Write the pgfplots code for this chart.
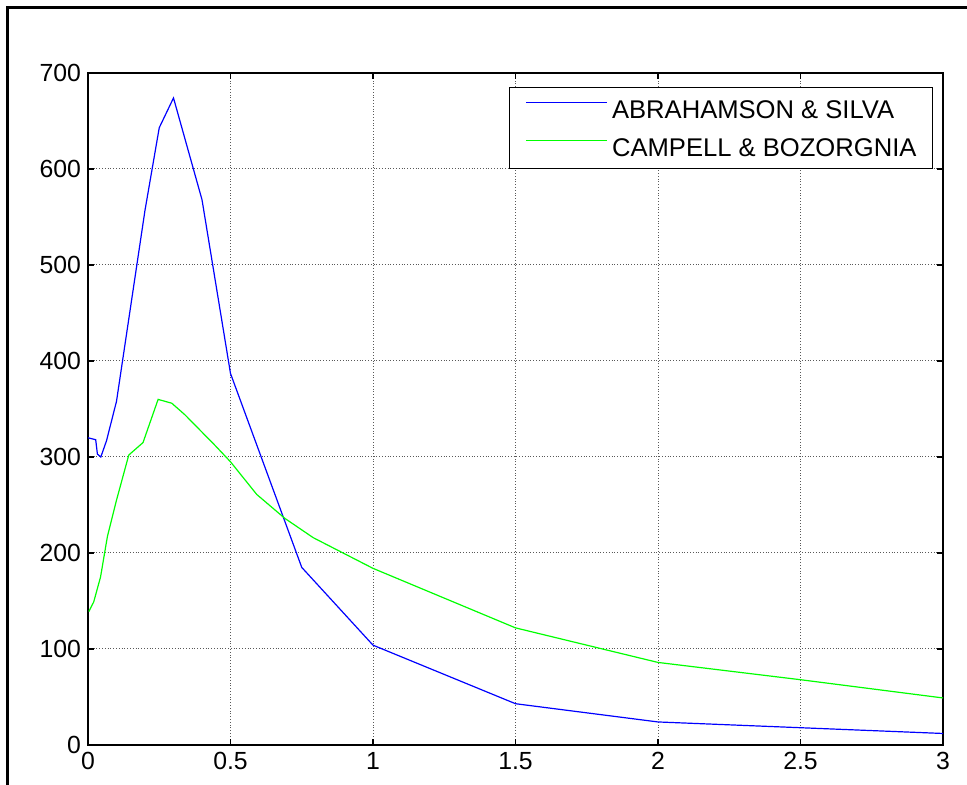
\documentclass[border=0pt]{standalone}
\usepackage{pgfplots}
\pgfplotsset{compat=1.18}
\usepackage{fontspec}
\setmainfont{Liberation Sans}
\begin{document}
\begin{tikzpicture}
\useasboundingbox (0,0) rectangle (483.5pt,392.5pt);
\draw[line width=1.8pt] (3.75pt,-1pt) -- (3.75pt,388.75pt) -- (490pt,388.75pt);
\begin{axis}[
  at={(44pt,20pt)}, anchor=south west, scale only axis,
  width=427.5pt, height=336pt,
  xmin=0, xmax=3, ymin=0, ymax=700,
  xtick={0,0.5,1,1.5,2,2.5,3}, ytick={0,100,200,300,400,500,600,700},
  xticklabels={0,0.5,1,1.5,2,2.5,3},
  grid=major, major grid style={black!65, densely dotted, line width=0.5pt},
  tick align=inside, tick pos=both, major tick length=3pt,
  axis line style={line width=0.8pt}, tick style={black, line width=0.8pt},
  ticklabel style={font=\fontsize{12.4}{14}\selectfont},
  /pgf/number format/assume math mode=true,
  legend style={draw=black, fill=white, line width=0.5pt,
    at={(rel axis cs:0.9883,0.979)}, anchor=north east,
    font=\fontsize{12.8}{15}\selectfont,
    inner xsep=8pt, inner ysep=6.2pt, row sep=9.6pt, column sep=2pt,
    nodes={inner sep=0pt, text height=9.25pt, text depth=0pt},
    cells={anchor=west}},
  legend image code/.code={\draw[#1] (0pt,3.3pt) -- (40.5pt,3.3pt);},
]
\addplot[blue, line width=0.6pt] coordinates {
(0,320) (0.027,318) (0.033,303) (0.045,300) (0.065,317) (0.1,358)
(0.2,557) (0.25,643) (0.3,674) (0.4,568) (0.5,387) (0.75,185)
(1,104) (1.5,43) (2,24) (2.5,18) (3,12)};
\addlegendentry{ABRAHAMSON \& SILVA}
\addplot[green, line width=0.6pt] coordinates {
(0.003,139) (0.02,149) (0.044,175) (0.068,217) (0.1,255) (0.143,302)
(0.193,315) (0.246,360) (0.294,356) (0.34,344) (0.446,312) (0.5,295)
(0.592,261) (0.691,236) (0.79,216) (1,184) (1.5,122) (2,86) (2.5,68) (3,49)};
\addlegendentry{CAMPELL \& BOZORGNIA}
\end{axis}
\end{tikzpicture}
\end{document}
